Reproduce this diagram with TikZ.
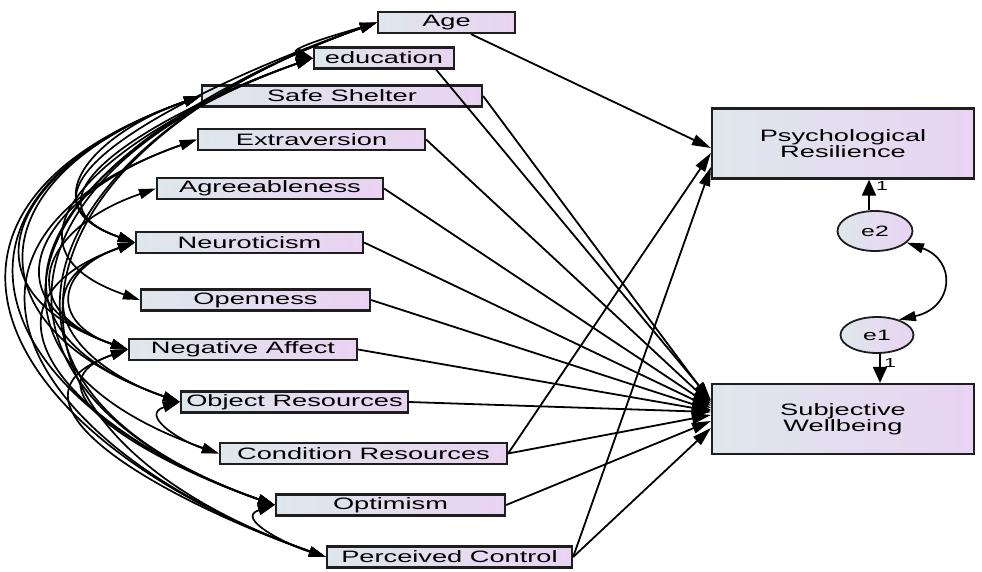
\documentclass[tikz,border=0pt]{standalone}
\usepackage{fontspec}
\setmainfont{Liberation Sans}[FakeStretch=1.65]
\usetikzlibrary{arrows.meta,calc,shapes.geometric}

\definecolor{boxleft}{RGB}{222,231,236}
\definecolor{boxright}{RGB}{233,211,242}
\definecolor{edge}{RGB}{30,30,30}

% double-headed covariance arc between the left ends of two observed variables
\newcommand\covar[2]{%
  \draw[covline] let \p1=(#1.west), \p2=(#2.west),
    \n1={abs(\y1-\y2)},
    \n2={min(0.7*\n1+4,((\x1+\x2)/2-12)/0.75)} in
    (\p1) .. controls ($(\p1)+(-\n2,-0.25*\n1)$) and ($(\p2)+(-\n2,0.25*\n1)$) .. (\p2);}

\begin{document}
\begin{tikzpicture}[x=1pt,y=1pt,
  obsbox/.style={rectangle, draw=edge, line width=2.2pt, left color=boxleft, right color=boxright,
    inner sep=0pt, minimum height=21pt, font=\fontsize{16.5}{16}\selectfont},
  bigbox/.style={obsbox, minimum width=262pt, minimum height=70pt, align=center},
  errnode/.style={ellipse, draw=edge, line width=1.8pt, left color=boxleft, right color=boxright,
    inner sep=0pt, font=\fontsize{15}{15}\selectfont},
  pathline/.style={line width=1.8pt, draw=black, -{Triangle[length=19pt,width=11pt]}},
  vpath/.style={line width=1.8pt, draw=black, -{Triangle[length=16pt,width=14pt]}},
  covline/.style={line width=1.7pt, draw=black,
    {Triangle[length=17pt,width=10pt]}-{Triangle[length=17pt,width=10pt]}},
  onelabel/.style={font=\fontsize{13}{13}\selectfont, inner sep=0pt},
]
\useasboundingbox (0,0) rectangle (982,-571);

% exogenous observed variables
\node[obsbox, minimum width=137pt] (age)  at (446.5,-22.5) {Age};
\node[obsbox, minimum width=140pt] (edu)  at (384,-58)     {education};
\node[obsbox, minimum width=280pt] (ss)   at (342,-96)     {Safe Shelter};
\node[obsbox, minimum width=227pt] (ext)  at (311.5,-139.5){Extraversion};
\node[obsbox, minimum width=226pt] (agr)  at (270,-188.5)  {Agreeableness};
\node[obsbox, minimum width=227pt] (neu)  at (249.5,-242.5){Neuroticism};
\node[obsbox, minimum width=229pt] (opn)  at (255.5,-300)  {Openness};
\node[obsbox, minimum width=228pt] (na)   at (243,-349.5)  {Negative Affect};
\node[obsbox, minimum width=227pt] (objr) at (294.5,-402)  {Object Resources};
\node[obsbox, minimum width=287pt] (cr)   at (363.5,-453.5){Condition Resources};
\node[obsbox, minimum width=229pt] (opt)  at (390.5,-505)  {Optimism};
\node[obsbox, minimum width=245pt] (pc)   at (449.5,-557)  {Perceived Control};

% endogenous variables and their errors
\node[bigbox] (psych) at (843,-143.5) {Psychological\\Resilience};
\node[bigbox] (sw)    at (843,-419)   {Subjective\\Wellbeing};
\node[errnode, minimum width=75pt, minimum height=40pt] (e2) at (875,-231) {e2};
\node[errnode, minimum width=73pt, minimum height=36pt] (e1) at (877,-335) {e1};

% paths to Psychological Resilience
\draw[pathline] (age) -- ($(psych.west)+(0,-4.5)$);
\draw[pathline] (cr.east) -- ($(psych.west)+(0,-9.5)$);
\draw[pathline] (pc.east) -- ($(psych.west)+(0,-23.5)$);

% paths to Subjective Wellbeing
\draw[pathline] ([xshift=-19pt]edu.south east) -- ($(sw.west)+(0,19)$);
\draw[pathline] (ss.east)   -- ($(sw.west)+(0,17)$);
\draw[pathline] (ext.east)  -- ($(sw.west)+(0,15)$);
\draw[pathline] (agr.east)  -- ($(sw.west)+(0,13)$);
\draw[pathline] (neu.east)  -- ($(sw.west)+(0,11)$);
\draw[pathline] (opn.east)  -- ($(sw.west)+(0,9)$);
\draw[pathline] (na.east)   -- ($(sw.west)+(0,8)$);
\draw[pathline] (objr.east) -- ($(sw.west)+(0,7)$);
\draw[pathline] (cr.east)   -- ($(sw.west)+(0,4)$);
\draw[pathline] (opt.east)  -- ($(sw.west)+(0,-2)$);
\draw[pathline] (pc.east)   -- ($(sw.west)+(0,-9)$);

% error terms
\coordinate (e2top) at ($(e2.north)+(-6,0)$);
\coordinate (e1bot) at ($(e1.south)+(3,0)$);
\draw[vpath] (e2top) -- (e2top |- psych.south);
\draw[vpath] (e1bot) -- (e1bot |- sw.north);
\node[onelabel] (w2) at (882,-186) {1};
\node[onelabel] (w1) at (890,-363) {1};
\draw[covline] (e1.35) .. controls +(55,12) and +(50,-18) .. (e2.-20);

% covariances among the exogenous variables
\foreach \a/\b in {age/edu, age/neu, age/objr, age/opt, age/pc,
                   edu/neu, edu/opn, edu/cr, edu/opt,
                   ss/neu, ss/na, ss/objr, ss/opt, ss/pc,
                   ext/na, ext/pc, agr/na,
                   neu/na, neu/objr, neu/opt,
                   na/opt, na/pc, objr/cr, opt/pc}
  {\covar{\a}{\b}}
\end{tikzpicture}
\end{document}
